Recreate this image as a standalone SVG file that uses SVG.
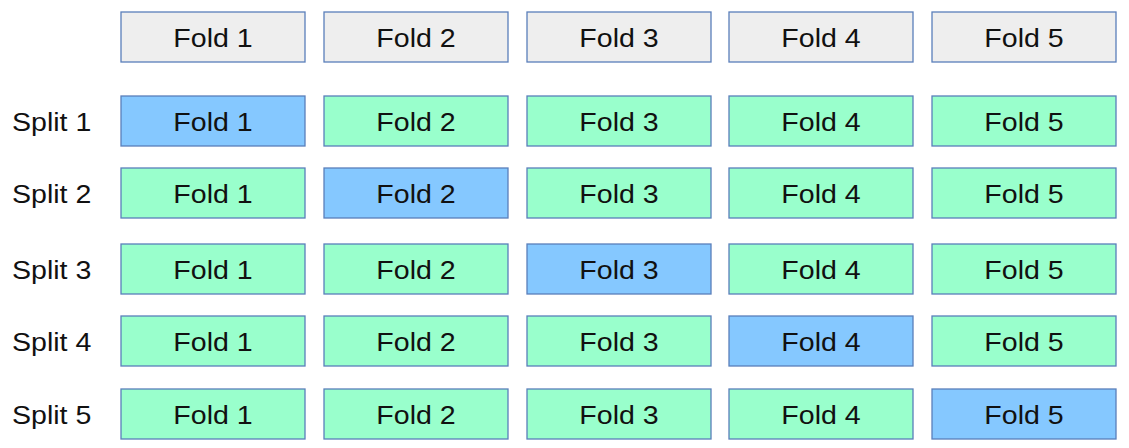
<svg xmlns="http://www.w3.org/2000/svg" width="1129" height="448" viewBox="0 0 1129 448">
<style>
rect{stroke:#5a7fbb;stroke-width:1.3}
.g{fill:#eeeeee}
.t{fill:#99ffcc}
.v{fill:#85c8ff}
text{font-family:"Liberation Sans",Arial,sans-serif;font-size:25.5px;fill:#111}
.c{text-anchor:middle}
</style>
<rect width="1129" height="448" fill="#ffffff" style="stroke:none"/>
<g id="header">
<g id="h1"><rect class="g" x="121" y="12" width="184" height="50"/><text class="c" transform="translate(213,46.5) scale(1.12,1)">Fold 1</text></g>
<g id="h2"><rect class="g" x="324" y="12" width="184" height="50"/><text class="c" transform="translate(416,46.5) scale(1.12,1)">Fold 2</text></g>
<g id="h3"><rect class="g" x="527" y="12" width="184" height="50"/><text class="c" transform="translate(619,46.5) scale(1.12,1)">Fold 3</text></g>
<g id="h4"><rect class="g" x="729" y="12" width="184" height="50"/><text class="c" transform="translate(821,46.5) scale(1.12,1)">Fold 4</text></g>
<g id="h5"><rect class="g" x="932" y="12" width="184" height="50"/><text class="c" transform="translate(1024,46.5) scale(1.12,1)">Fold 5</text></g>
</g>
<g id="split1">
<text transform="translate(12,130.5) scale(1.12,1)">Split 1</text>
<g id="s1f1"><rect class="v" x="121" y="96" width="184" height="50"/><text class="c" transform="translate(213,130.5) scale(1.12,1)">Fold 1</text></g>
<g id="s1f2"><rect class="t" x="324" y="96" width="184" height="50"/><text class="c" transform="translate(416,130.5) scale(1.12,1)">Fold 2</text></g>
<g id="s1f3"><rect class="t" x="527" y="96" width="184" height="50"/><text class="c" transform="translate(619,130.5) scale(1.12,1)">Fold 3</text></g>
<g id="s1f4"><rect class="t" x="729" y="96" width="184" height="50"/><text class="c" transform="translate(821,130.5) scale(1.12,1)">Fold 4</text></g>
<g id="s1f5"><rect class="t" x="932" y="96" width="184" height="50"/><text class="c" transform="translate(1024,130.5) scale(1.12,1)">Fold 5</text></g>
</g>
<g id="split2">
<text transform="translate(12,202.5) scale(1.12,1)">Split 2</text>
<g id="s2f1"><rect class="t" x="121" y="168" width="184" height="50"/><text class="c" transform="translate(213,202.5) scale(1.12,1)">Fold 1</text></g>
<g id="s2f2"><rect class="v" x="324" y="168" width="184" height="50"/><text class="c" transform="translate(416,202.5) scale(1.12,1)">Fold 2</text></g>
<g id="s2f3"><rect class="t" x="527" y="168" width="184" height="50"/><text class="c" transform="translate(619,202.5) scale(1.12,1)">Fold 3</text></g>
<g id="s2f4"><rect class="t" x="729" y="168" width="184" height="50"/><text class="c" transform="translate(821,202.5) scale(1.12,1)">Fold 4</text></g>
<g id="s2f5"><rect class="t" x="932" y="168" width="184" height="50"/><text class="c" transform="translate(1024,202.5) scale(1.12,1)">Fold 5</text></g>
</g>
<g id="split3">
<text transform="translate(12,278.5) scale(1.12,1)">Split 3</text>
<g id="s3f1"><rect class="t" x="121" y="244" width="184" height="50"/><text class="c" transform="translate(213,278.5) scale(1.12,1)">Fold 1</text></g>
<g id="s3f2"><rect class="t" x="324" y="244" width="184" height="50"/><text class="c" transform="translate(416,278.5) scale(1.12,1)">Fold 2</text></g>
<g id="s3f3"><rect class="v" x="527" y="244" width="184" height="50"/><text class="c" transform="translate(619,278.5) scale(1.12,1)">Fold 3</text></g>
<g id="s3f4"><rect class="t" x="729" y="244" width="184" height="50"/><text class="c" transform="translate(821,278.5) scale(1.12,1)">Fold 4</text></g>
<g id="s3f5"><rect class="t" x="932" y="244" width="184" height="50"/><text class="c" transform="translate(1024,278.5) scale(1.12,1)">Fold 5</text></g>
</g>
<g id="split4">
<text transform="translate(12,350.5) scale(1.12,1)">Split 4</text>
<g id="s4f1"><rect class="t" x="121" y="316" width="184" height="50"/><text class="c" transform="translate(213,350.5) scale(1.12,1)">Fold 1</text></g>
<g id="s4f2"><rect class="t" x="324" y="316" width="184" height="50"/><text class="c" transform="translate(416,350.5) scale(1.12,1)">Fold 2</text></g>
<g id="s4f3"><rect class="t" x="527" y="316" width="184" height="50"/><text class="c" transform="translate(619,350.5) scale(1.12,1)">Fold 3</text></g>
<g id="s4f4"><rect class="v" x="729" y="316" width="184" height="50"/><text class="c" transform="translate(821,350.5) scale(1.12,1)">Fold 4</text></g>
<g id="s4f5"><rect class="t" x="932" y="316" width="184" height="50"/><text class="c" transform="translate(1024,350.5) scale(1.12,1)">Fold 5</text></g>
</g>
<g id="split5">
<text transform="translate(12,423.5) scale(1.12,1)">Split 5</text>
<g id="s5f1"><rect class="t" x="121" y="389" width="184" height="50"/><text class="c" transform="translate(213,423.5) scale(1.12,1)">Fold 1</text></g>
<g id="s5f2"><rect class="t" x="324" y="389" width="184" height="50"/><text class="c" transform="translate(416,423.5) scale(1.12,1)">Fold 2</text></g>
<g id="s5f3"><rect class="t" x="527" y="389" width="184" height="50"/><text class="c" transform="translate(619,423.5) scale(1.12,1)">Fold 3</text></g>
<g id="s5f4"><rect class="t" x="729" y="389" width="184" height="50"/><text class="c" transform="translate(821,423.5) scale(1.12,1)">Fold 4</text></g>
<g id="s5f5"><rect class="v" x="932" y="389" width="184" height="50"/><text class="c" transform="translate(1024,423.5) scale(1.12,1)">Fold 5</text></g>
</g>
<g id="connectors"/>
</svg>
